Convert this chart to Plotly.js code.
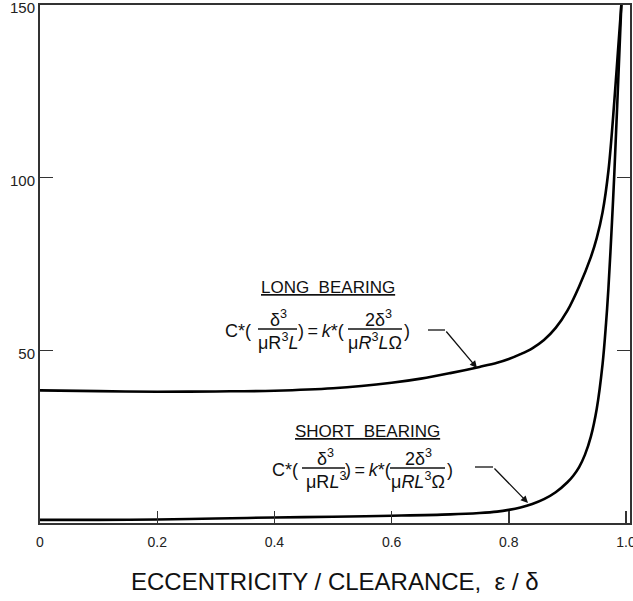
<!DOCTYPE html>
<html>
<head>
<meta charset="utf-8">
<script src="https://cdn.plot.ly/plotly-3.0.1.min.js"></script>
<style>html,body{margin:0;padding:0;background:#fff;}#chart{width:633px;height:601px;}</style>
</head>
<body>
<div id="chart"></div>
<script>
// Data
const epsLong = [0, 0.1, 0.2, 0.3, 0.4, 0.5, 0.6, 0.65, 0.70, 0.75, 0.78, 0.80, 0.82, 0.84, 0.86, 0.88, 0.90, 0.92, 0.94, 0.95, 0.96, 0.97, 0.98, 0.986, 0.992];
const cLong   = [38.4, 38.2, 38.0, 38.1, 38.3, 39.0, 40.6, 41.8, 43.4, 45.2, 46.4, 47.5, 48.9, 50.6, 53.0, 56.5, 61.5, 68.5, 77, 82.5, 90, 102, 122, 136, 150];

const epsShort = [0, 0.1, 0.2, 0.3, 0.4, 0.5, 0.6, 0.7, 0.75, 0.78, 0.80, 0.82, 0.84, 0.86, 0.88, 0.90, 0.91, 0.92, 0.93, 0.94, 0.95, 0.96, 0.966, 0.97, 0.976, 0.98, 0.985, 0.992];
const cShort   = [0.9, 0.9, 1.0, 1.3, 1.6, 1.8, 2.1, 2.5, 2.9, 3.3, 3.8, 4.5, 5.5, 6.9, 8.9, 11.8, 13.7, 16.2, 19.8, 25, 33, 46, 58, 68, 87, 101, 121, 150];

const xTickVals = [0, 0.2, 0.4, 0.6, 0.8, 1.0];
const xTickText = ["0", "0.2", "0.4", "0.6", "0.8", "1.0"];
const yTickVals = [50, 100, 150];
const yTickText = ["50", "100", "150"];

const FONT = "Liberation Sans, Arial, Helvetica, sans-serif";
const W = 633, H = 601;
const M = {l: 40, r: 3, t: 5, b: 78};
const pw = W - M.l - M.r, ph = H - M.t - M.b;
const px = x => (x - M.l) / pw;
const py = y => (H - M.b - y) / ph;

function A(text, x, y, xanchor, size) {
  return {xref: 'paper', yref: 'paper', x: px(x), y: py(y), xanchor: xanchor, yanchor: 'middle',
          text: text, showarrow: false, font: {size: size, family: FONT, color: '#111'}};
}
function L(x0, y0, x1, y1, w) {
  return {type: 'line', xref: 'paper', yref: 'paper', x0: px(x0), y0: py(y0), x1: px(x1), y1: py(y1),
          line: {color: '#111', width: w || 1.3}};
}

const traces = [
  {x: epsLong, y: cLong, mode: 'lines', line: {color: '#000', width: 2.6, shape: 'spline', smoothing: 1}, name: 'Long bearing', hoverinfo: 'skip'},
  {x: epsShort, y: cShort, mode: 'lines', line: {color: '#000', width: 2.6, shape: 'spline', smoothing: 1}, name: 'Short bearing', hoverinfo: 'skip'}
];

const annotations = [
  A('<u>LONG\u00a0\u00a0BEARING</u>', 327.5, 287, 'center', 17),
  A('C*(', 253, 331, 'right', 18),
  A('δ<sup>3</sup>', 278, 318, 'center', 18),
  A('μR<sup>3</sup><i>L</i>', 278, 342, 'center', 18),
  A(')\u2009=\u2009<i>k</i>*(', 296, 331, 'left', 18),
  A('2δ<sup>3</sup>', 378, 318, 'center', 18),
  A('μ<i>R</i><sup>3</sup><i>L</i>Ω', 375, 342, 'center', 18),
  A(')', 402, 331, 'left', 18),

  A('<u>SHORT\u00a0\u00a0BEARING</u>', 367.5, 431, 'center', 17),
  A('C*(', 300, 470, 'right', 18),
  A('δ<sup>3</sup>', 325, 457, 'center', 18),
  A('μR<i>L</i><sup>3</sup>', 326, 481, 'center', 18),
  A(')\u2009=\u2009<i>k</i>*(', 343, 470, 'left', 18),
  A('2δ<sup>3</sup>', 418, 457, 'center', 18),
  A('μ<i>RL</i><sup>3</sup>Ω', 418, 481, 'center', 18),
  A(')', 445, 470, 'left', 18),

  {xref: 'paper', yref: 'paper', x: px(477), y: py(368), ax: -32, ay: -38, axref: 'pixel', ayref: 'pixel',
   text: '', showarrow: true, arrowhead: 2, arrowsize: 1.1, arrowwidth: 1.3, arrowcolor: '#111', standoff: 0, startstandoff: 0},
  {xref: 'paper', yref: 'paper', x: px(528), y: py(503), ax: -35, ay: -36, axref: 'pixel', ayref: 'pixel',
   text: '', showarrow: true, arrowhead: 2, arrowsize: 1.1, arrowwidth: 1.3, arrowcolor: '#111', standoff: 0, startstandoff: 0},

  {xref: 'paper', yref: 'paper', x: 0.5, y: 0, yshift: -58, xanchor: 'center', yanchor: 'middle',
   text: 'ECCENTRICITY / CLEARANCE,\u00a0\u00a0ε / δ', showarrow: false, font: {size: 24, family: FONT, color: '#111'}}
];

const shapes = [
  L(258, 329, 297, 329),
  L(348, 329, 402, 329),
  L(302, 468, 345, 468),
  L(390, 468, 445, 468),
  L(428, 330, 445, 330),
  L(475, 467, 493, 467)
];

const layout = {
  width: W, height: H,
  margin: M,
  paper_bgcolor: '#fff', plot_bgcolor: '#fff',
  showlegend: false,
  xaxis: {
    range: [0, 1.0068], tickvals: xTickVals, ticktext: xTickText,
    ticks: 'inside', ticklen: 12, tickwidth: 1.4, tickcolor: '#333',
    showline: true, linecolor: '#333', linewidth: 2, mirror: true,
    showgrid: false, zeroline: false, ticklabeloverflow: 'allow', ticklabelstandoff: 5,
    tickfont: {size: 14, family: FONT, color: '#222'}
  },
  yaxis: {
    range: [0, 150], tickvals: yTickVals, ticktext: yTickText,
    ticks: 'inside', ticklen: 13, tickwidth: 1.4, tickcolor: '#333',
    showline: true, linecolor: '#333', linewidth: 2, mirror: 'ticks',
    showgrid: false, zeroline: false, ticklabeloverflow: 'allow', ticklabelshift: 3,
    tickfont: {size: 15, family: FONT, color: '#222'}
  },
  annotations: annotations,
  shapes: shapes
};

Plotly.newPlot('chart', traces, layout, {staticPlot: true, displayModeBar: false});
</script>
</body>
</html>
